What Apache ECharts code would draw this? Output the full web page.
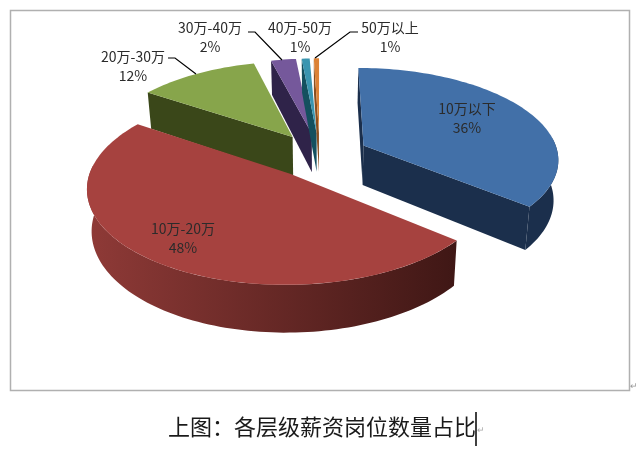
<!DOCTYPE html>
<html><head><meta charset="utf-8">
<style>html,body{margin:0;padding:0;background:#fff}#c{width:640px;height:450px}</style>
<script src="https://cdn.jsdelivr.net/npm/echarts@6/dist/echarts.min.js"></script>
</head><body><div id="c"></div>
<script>
const categories = ['10万以下','10万-20万','20万-30万','30万-40万','40万-50万','50万以上'];
const shares = [36,48.4,11.6,2.4,0.9,0.7];
const captionText = '上图：各层级薪资岗位数量占比';

// styling and layout, separate from the data
const topColors = ['#4270A8','#A6423F','#87A54B','#75589B','#3A95B0','#DC8236'];
const wallColors = [
  ['#1B2F4C','#1B2F4C'],['#8F3A37','#3F1715'],['#3A4719','#3A4719'],
  ['#2F2349','#2F2349'],['#14505F','#14505F'],['#8A4F20','#8A4F20']];
const drawOrder = [2,3,4,5,0,1];
const startTrim = [0,0,0,0,0.5,0.7];
const labelSpots = [[467,118],[183,238],[133,66],[210,37],[300,37],[390,37]];
const leaders = [null,null,[[168,58],[175,58],[196,74]],[[248,32],[255,32],[282,60]],null,[[358,32],[350,32],[315,58]]];
const P = {cx:320, cy:155, rx:195, ry:90.5, k:0.136, explode:0.25, depth:40, shrink:0.98};

const total = shares.reduce((a,b)=>a+b,0);
const rad = d => d*Math.PI/180;
let run = 0;
const spans = shares.map(v=>{const a=run; run+=v/total*360; return [a,run];});

function planePoint(i,r,deg){
  const mid = rad((spans[i][0]+spans[i][1])/2), t = rad(deg);
  return [P.explode*Math.sin(mid)+r*Math.sin(t), -P.explode*Math.cos(mid)-r*Math.cos(t)];
}
function topPt(i,r,deg){
  const [X,Y]=planePoint(i,r,deg), s=1/(1-P.k*Y);
  return [P.cx+P.rx*X*s, P.cy+P.ry*Y*s];
}
function bottomPt(i,r,deg){
  const [X,Y]=planePoint(i,r,deg), s=1/(1-P.k*Y), p=topPt(i,r,deg);
  return [P.cx+(p[0]-P.cx)*P.shrink, p[1]+P.depth*s];
}
function arc(from,to){
  const n=Math.max(2,Math.ceil(Math.abs(to-from)/1.5)), out=[];
  for(let j=0;j<=n;j++) out.push(from+(to-from)*j/n);
  return out;
}
function sliceElements(i){
  const a=spans[i][0]+startTrim[i], b=spans[i][1], kids=[];
  const poly=(points,fill)=>kids.push({type:'polygon',shape:{points},style:{fill,stroke:null}});
  const wc=wallColors[i];
  // cut faces turned toward the viewer
  const cut=deg=>[topPt(i,0,deg),topPt(i,1,deg),bottomPt(i,1,deg),bottomPt(i,0,deg)];
  if(Math.sin(rad(a))<=0.01) poly(cut(a),wc[1]);
  if(Math.sin(rad(b))>0.01) poly(cut(b),wc[1]);
  // outer wall, front half only
  const w0=Math.max(a,85), w1=Math.min(b,275);
  if(w1>w0){
    const angs=arc(w0,w1);
    const pts=angs.map(d=>topPt(i,1,d)).concat(angs.slice().reverse().map(d=>bottomPt(i,1,d)));
    const rightToLeft = (w0+w1)/2>120;
    poly(pts,{type:'linear',x:rightToLeft?1:0,y:0,x2:rightToLeft?0:1,y2:0,
      colorStops:[{offset:0,color:wc[1]},{offset:1,color:wc[0]}]});
  }
  // top face
  poly([topPt(i,0,a)].concat(arc(a,b).map(d=>topPt(i,1,d))),topColors[i]);
  return kids;
}
const chart=echarts.init(document.getElementById('c'),null,{renderer:'canvas'});
const font='"Noto Sans CJK SC","Noto Sans",sans-serif';
chart.setOption({
  animation:false,
  backgroundColor:'#fff',
  title:{text:captionText,left:168,top:416,padding:0,
    textStyle:{fontFamily:font,fontSize:22,fontWeight:'normal',color:'#1a1a1a'}},
  graphic:[
    {type:'rect',silent:true,z:-1,shape:{x:10.5,y:10.5,width:619,height:380},style:{fill:'#fff',stroke:'#b0b0b0',lineWidth:1.5}},
    {type:'line',shape:{x1:476,y1:412,x2:476,y2:446},style:{stroke:'#000',lineWidth:1.5}},
    {type:'text',x:477,y:426,style:{text:'↵',fill:'#aaa',fontSize:9}},
    {type:'text',x:630,y:382,style:{text:'↵',fill:'#999',fontSize:9}}
  ],
  series:[
    {type:'custom',coordinateSystem:'none',silent:true,z:2,
     data:drawOrder.map(i=>({name:categories[i],value:[shares[i],i]})),
     renderItem:(p,api)=>({type:'group',children:sliceElements(api.value(1))})},
    {type:'custom',coordinateSystem:'none',silent:true,z:3,
     data:categories.map((c,i)=>({name:c,value:[shares[i],i]})),
     renderItem:(p,api)=>{
       const i=api.value(1), kids=[];
       const sp=labelSpots[i];
       kids.push({type:'text',x:sp[0],y:sp[1],style:{text:categories[i]+'\n'+Math.round(shares[i])+'%',
         fontFamily:font,fontSize:14,lineHeight:19,align:'center',verticalAlign:'middle',fill:'#2b2b2b'}});
       if(leaders[i]) kids.push({type:'polyline',shape:{points:leaders[i]},style:{stroke:'#000',lineWidth:1.2,fill:null}});
       return {type:'group',children:kids};
     }}
  ]
});
</script></body></html>
